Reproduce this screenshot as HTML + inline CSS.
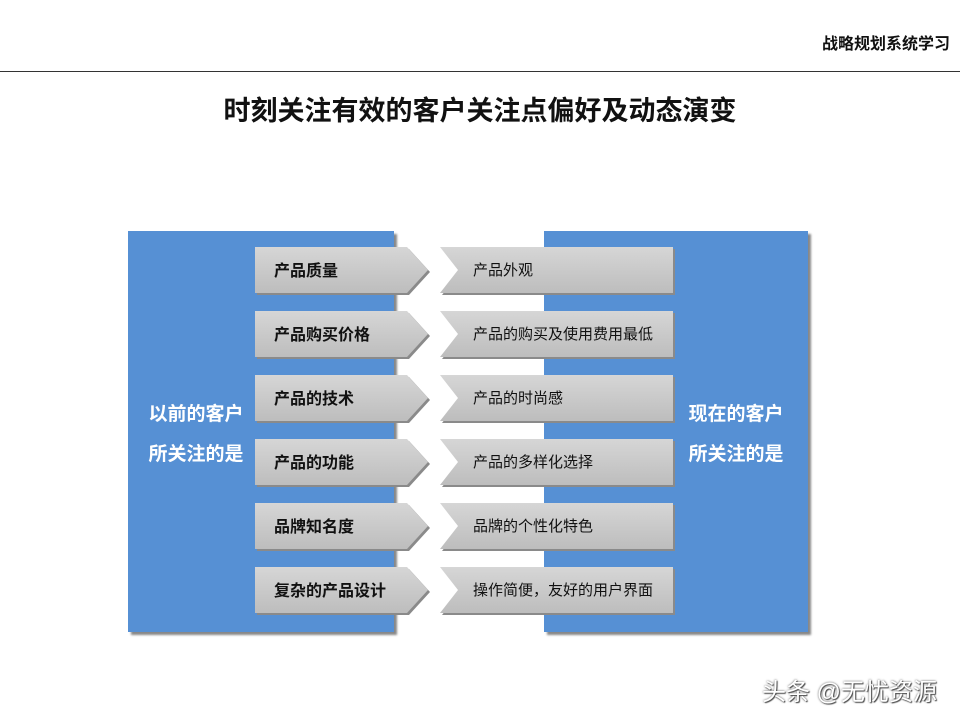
<!DOCTYPE html>
<html><head><meta charset="utf-8"><style>
body{margin:0;width:960px;height:720px;background:#fff;position:relative;overflow:hidden;font-family:"Liberation Sans","Noto Sans CJK SC",sans-serif}
.a{position:absolute}
.blue{background:#5690d4;box-shadow:3px 3px 2px #888}
.side{color:#fff;font-weight:bold;font-size:19px;line-height:40px;text-align:center}
svg{position:absolute;left:0;top:0}
.l{position:absolute;font-weight:bold;font-size:16px;color:#111}
.r{position:absolute;font-size:15px;color:#111}
</style></head><body>
<div class="a" style="right:10px;top:30px;font-weight:bold;font-size:16px;color:#111">战略规划系统学习</div>
<div class="a" style="left:0;right:0;top:71px;height:1px;background:#333"></div>
<div class="a" style="left:0;width:960px;top:89px;text-align:center;font-weight:bold;font-size:27px;color:#111">时刻关注有效的客户关注点偏好及动态演变</div>
<div class="a blue" style="left:128px;top:231px;width:266px;height:401px"></div>
<div class="a blue" style="left:544px;top:231px;width:264px;height:401px"></div>
<div class="a side" style="left:128px;width:136px;top:395px">以前的客户<br>所关注的是</div>
<div class="a side" style="left:668px;width:136px;top:395px">现在的客户<br>所关注的是</div>
<svg width="960" height="720">
<defs><linearGradient id="g" x1="0" y1="0" x2="0" y2="1"><stop offset="0" stop-color="#d6d6d6"/><stop offset="1" stop-color="#bdbdbd"/></linearGradient></defs>
<g id="rows"></g>
</svg>
<div id="t"></div>
<script>
var L=["产品质量","产品购买价格","产品的技术","产品的功能","品牌知名度","复杂的产品设计"];
var R=["产品外观","产品的购买及使用费用最低","产品的时尚感","产品的多样化选择","品牌的个性化特色","操作简便，友好的用户界面"];
var g=document.getElementById('rows'),s='',h='';
for(var i=0;i<6;i++){var y=247+i*64,b=y+46,m=y+23;
s+='<polygon points="257,'+(y+2)+' 409,'+(y+2)+' 430,'+(m+2)+' 409,'+(b+2)+' 257,'+(b+2)+'" fill="#8a8a8a"/>';
s+='<polygon points="255,'+y+' 407,'+y+' 428,'+m+' 407,'+b+' 255,'+b+'" fill="url(#g)"/>';
s+='<polygon points="442,'+(y+2)+' 675,'+(y+2)+' 675,'+(b+2)+' 442,'+(b+2)+' 460,'+(m+2)+'" fill="#8a8a8a"/>';
s+='<polygon points="440,'+y+' 673,'+y+' 673,'+b+' 440,'+b+' 458,'+m+'" fill="url(#g)"/>';
h+='<div class="l" style="left:274px;top:'+(y+10)+'px">'+L[i]+'</div>';
h+='<div class="r" style="left:473px;top:'+(y+12)+'px">'+R[i]+'</div>';}
g.innerHTML=s;document.getElementById('t').innerHTML=h;
</script>
<div class="a" style="left:762px;top:672px;font-size:24px;color:#fff;text-shadow:0 0 2px #555,1px 1px 1px #444">头条 @无忧资源</div>
</body></html>
